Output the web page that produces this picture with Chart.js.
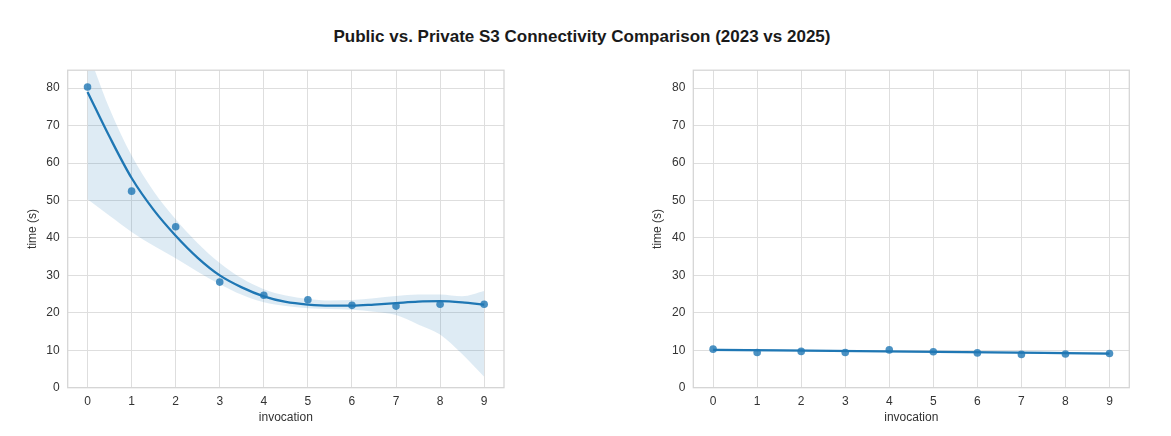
<!DOCTYPE html>
<html>
<head>
<meta charset="utf-8">
<script src="https://cdn.jsdelivr.net/npm/chart.js@4.4.1/dist/chart.umd.min.js"></script>
<style>
  body { margin: 0; background: #fff; font-family: "Liberation Sans", Arial, sans-serif; }
  #title {
    position: absolute; left: 0; width: 1164px; top: 27px;
    text-align: center; font-weight: bold; font-size: 17px; color: #1a1a1a;
  }
  .box { position: absolute; top: 55px; height: 381px; }
  #left { left: 0; width: 520px; }
  #right { left: 620px; width: 530px; }
</style>
</head>
<body>
<div id="title">Public vs. Private S3 Connectivity Comparison (2023 vs 2025)</div>
<div class="box" id="left"><canvas id="c1"></canvas></div>
<div class="box" id="right"><canvas id="c2"></canvas></div>
<script>
// invocation index for observed points
const invocations = [0, 1, 2, 3, 4, 5, 6, 7, 8, 9];
// 2023 public S3 timings (s)
const publicTimes = [80.3, 52.5, 43.0, 28.2, 24.7, 23.5, 22.0, 21.8, 22.3, 22.3];
// 2025 private S3 timings (s)
const privateTimes = [10.3, 9.4, 9.7, 9.4, 10.1, 9.6, 9.3, 8.9, 9.0, 9.15];

// regression curve + confidence band
const fitX = [0, 0.5, 1, 1.5, 2, 2.5, 3, 3.5, 4, 4.5, 5, 5.5, 6, 6.5, 7, 7.5, 8, 8.5, 9];
const publicFit = [79, 67, 56, 47.5, 40.6, 34.7, 30.0, 26.8, 24.4, 22.9, 22.2, 21.9, 21.9, 22.2, 22.6, 23.0, 23.1, 22.8, 22.2];
const publicUpper = [90, 74.5, 62, 52.5, 45, 38.6, 33.3, 29.2, 26.3, 24.6, 23.7, 23.3, 23.4, 23.9, 24.5, 24.9, 24.9, 24.4, 25.8];
const publicLower = [50.3, 45.9, 41.6, 37.9, 34.6, 31.0, 27.6, 24.8, 22.8, 21.8, 21.2, 21.0, 20.8, 20.3, 19.4, 16.9, 14.2, 9.0, 2.9];

const privFitX = [0, 4.5, 9];
const privateFit = [10.1, 9.65, 9.1];
const privateUpper = [10.45, 9.85, 9.45];
const privateLower = [9.75, 9.45, 8.75];

const xTicks = [0, 1, 2, 3, 4, 5, 6, 7, 8, 9];
const yTicks = [0, 10, 20, 30, 40, 50, 60, 70, 80];

const BLUE = '#1f77b4';
const TEXT = '#333';

function pts(xs, ys) { return xs.map((x, i) => ({ x: x, y: ys[i] })); }

// draw the top/right spines too (seaborn whitegrid look)
const frame = {
  id: 'frame',
  afterDraw(chart) {
    const a = chart.chartArea, ctx = chart.ctx;
    ctx.save();
    ctx.strokeStyle = '#d4d4d4';
    ctx.lineWidth = 1.25;
    ctx.strokeRect(a.left, a.top, a.right - a.left, a.bottom - a.top);
    ctx.restore();
  }
};

function makeChart(id, obs, fx, fit, up, lo, yAxisW, yTitlePad, padRight) {
  const curve = { showLine: true, pointRadius: 0, cubicInterpolationMode: 'monotone' };
  return new Chart(document.getElementById(id), {
    type: 'scatter',
    data: {
      datasets: [
        { data: pts(invocations, obs), pointRadius: 3.8, pointHoverRadius: 3.8,
          backgroundColor: 'rgba(31,119,180,0.8)', borderWidth: 0, showLine: false },
        { ...curve, data: pts(fx, fit), borderColor: BLUE, borderWidth: 2.3, fill: false },
        { ...curve, data: pts(fx, up), borderWidth: 0, borderColor: 'rgba(0,0,0,0)',
          fill: { target: 3 }, backgroundColor: 'rgba(31,119,180,0.15)' },
        { ...curve, data: pts(fx, lo), borderWidth: 0, borderColor: 'rgba(0,0,0,0)', fill: false }
      ]
    },
    options: {
      responsive: true,
      maintainAspectRatio: false,
      animation: false,
      layout: { padding: { top: 7.7, right: padRight, bottom: 0, left: 0 } },
      plugins: { legend: { display: false }, tooltip: { enabled: false } },
      scales: {
        x: {
          type: 'linear', min: -0.45, max: 9.45,
          afterBuildTicks: s => { s.ticks = xTicks.map(v => ({ value: v })); },
          afterFit: s => { s.height = 48.3; },
          grid: { color: '#dedede', lineWidth: 1, drawTicks: false },
          border: { display: false },
          ticks: { padding: 7, color: TEXT, font: { family: 'Liberation Sans', size: 12 } },
          title: { display: true, text: 'invocation', color: TEXT,
                   font: { family: 'Liberation Sans', size: 12 }, padding: { top: 0, bottom: 10.8 } }
        },
        y: {
          min: 0, max: 84.8,
          afterBuildTicks: s => { s.ticks = yTicks.map(v => ({ value: v })); },
          afterFit: s => { s.width = yAxisW; },
          grid: { color: '#dedede', lineWidth: 1, drawTicks: false },
          border: { display: false },
          ticks: { padding: 8, color: TEXT, font: { family: 'Liberation Sans', size: 12 } },
          title: { display: true, text: 'time (s)', color: TEXT,
                   font: { family: 'Liberation Sans', size: 12 }, padding: { top: yTitlePad, bottom: 0 } }
        }
      }
    },
    plugins: [frame]
  });
}

makeChart('c1', publicTimes, fitX, publicFit, publicUpper, publicLower, 67.7, 25.8, 16);
makeChart('c2', privateTimes, privFitX, privateFit, privateUpper, privateLower, 73.3, 30, 20.7);
</script>
</body>
</html>
